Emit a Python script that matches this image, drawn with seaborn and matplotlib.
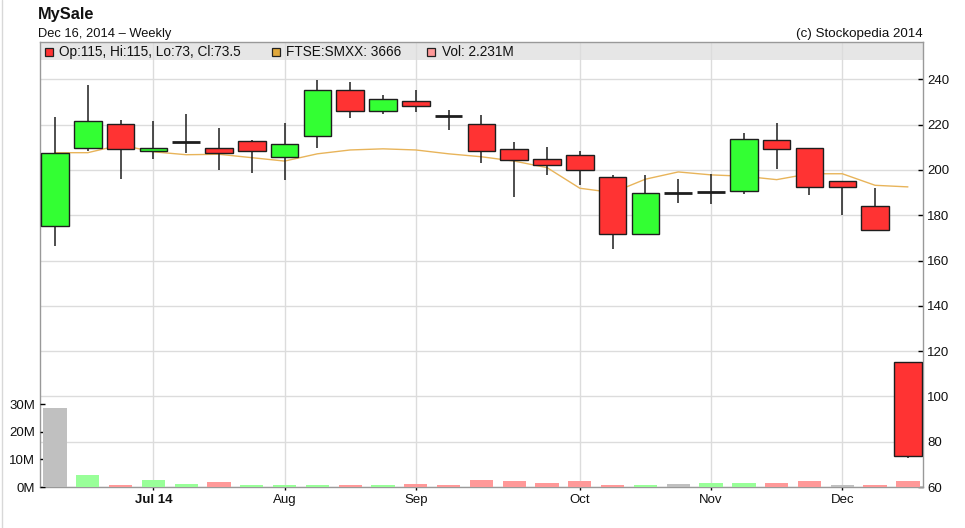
import numpy as np
import pandas as pd
import matplotlib
matplotlib.use("Agg")
import matplotlib.pyplot as plt
from matplotlib.patches import Rectangle
from matplotlib.lines import Line2D
import seaborn as sns

# ---------------- data ----------------
title = "MySale"
subtitle = "Dec 16, 2014 \u2013 Weekly"
credit = "(c) Stockopedia 2014"
first_week = "2014-06-16"
n_weeks = 27

opens = [175.2, 209.8, 220.4, 208.3, 212.3, 209.8, 212.6, 205.8, 214.8, 235.1, 225.8, 230.2, 223.9,
         220.4, 209.3, 205.0, 206.6, 197.0, 171.9, 189.8, 190.4, 190.6, 213.2, 209.8, 195.0, 184.0, 115.0]
highs = [223.3, 237.4, 222.0, 221.5, 224.8, 218.3, 213.2, 220.5, 239.6, 239.0, 233.0, 235.2, 226.4,
         224.3, 212.3, 210.0, 208.3, 197.8, 197.8, 196.1, 198.3, 216.1, 220.5, 209.8, 195.0, 191.9, 115.0]
lows = [166.2, 208.3, 195.9, 204.7, 207.3, 199.8, 198.8, 195.4, 209.8, 223.0, 224.5, 225.5, 217.4,
        203.1, 188.2, 197.6, 193.2, 165.0, 171.9, 185.4, 184.8, 189.3, 200.3, 188.8, 180.0, 173.4, 73.0]
closes = [207.6, 221.8, 209.3, 209.8, 212.3, 207.6, 208.2, 211.5, 235.1, 225.8, 231.2, 228.0, 223.9,
          208.2, 204.4, 202.2, 199.9, 171.9, 190.0, 189.8, 190.4, 213.6, 209.3, 192.3, 192.3, 173.4, 73.5]
ftse_rebased = [207.6, 207.6, 211.0, 208.0, 206.7, 206.9, 205.4, 203.9, 207.1, 208.8, 209.3, 208.8, 207.1,
                205.8, 203.9, 201.0, 191.9, 190.0, 195.9, 199.1, 197.8, 197.2, 195.7, 198.3, 198.3, 193.2, 192.5]
ftse_last = 3666
volumes_m = [28.8, 4.2, 0.7, 2.5, 1.1, 1.7, 0.6, 0.6, 0.6, 0.6, 0.6, 1.2, 0.6,
             2.5, 2.1, 1.6, 2.1, 0.7, 0.6, 1.1, 1.6, 1.6, 1.6, 2.1, 0.6, 0.7, 2.231]
vol_dir = ["flat", "up", "down", "up", "up", "down", "up", "up", "up", "down", "up", "down", "down",
           "down", "down", "down", "down", "down", "up", "flat", "up", "up", "down", "down", "flat", "down", "down"]
month_labels = ["Jul 14", "Aug", "Sep", "Oct", "Nov", "Dec"]
price_ticks = [60, 80, 100, 120, 140, 160, 180, 200, 220, 240]
vol_ticks = [0, 10, 20, 30]
vol_tick_labels = ["0M", "10M", "20M", "30M"]

# ---------------- styling ----------------
sns.set_theme(style="white")
plt.rcParams["font.family"] = ["Liberation Sans", "DejaVu Sans"]
plt.rcParams["font.size"] = 9.5

W, H = 965, 528
fig = plt.figure(figsize=(W / 100, H / 100), dpi=100)
fig.patch.set_facecolor("white")

px_left, px_right, px_top, px_bottom = 39.5, 923, 42, 487
ax = fig.add_axes([px_left / W, 1 - px_bottom / H, (px_right - px_left) / W, (px_bottom - px_top) / H])
axv = ax.twinx()

GREEN, RED = "#33ff33", "#ff3333"
EDGE = "#1e1e1e"
TXT = "#111111"

weeks = pd.date_range(first_week, periods=n_weeks, freq="W-MON")
idx = np.arange(n_weeks)
o = np.array(opens); c = np.array(closes); h = np.array(highs); l = np.array(lows)

# price axis limits
px_per_unit = (486.7 - 79.0) / 180.0
ymax = 60 + (px_bottom - px_top) / px_per_unit
ax.set_ylim(60, ymax)
ax.set_xlim(-0.47, n_weeks - 1 + 0.46)

# grid
ax.set_axisbelow(True)
ax.grid(True, color="#dcdcdc", linewidth=1.0)

# legend band
band_h = 18 / (px_bottom - px_top)
ax.add_patch(Rectangle((0, 1 - band_h), 1, band_h, transform=ax.transAxes,
                       facecolor="#e6e6e6", edgecolor="none", zorder=0.4))

# FTSE line
sns.lineplot(x=idx, y=ftse_rebased, ax=ax, color="#e8b45a", linewidth=1.0, zorder=2, legend=False)

# wicks
ax.vlines(idx, l, h, color=EDGE, linewidth=1.1, zorder=2.5)

# bodies
body_w = 0.84
doji = np.abs(c - o) < 0.3
up = c >= o
colors = np.where(up, GREEN, RED)
nd = ~doji
ax.bar(idx[nd], np.abs(c - o)[nd], bottom=np.minimum(o, c)[nd], width=body_w,
       color=colors[nd], edgecolor=EDGE, linewidth=1.0, zorder=3)
ax.hlines(o[doji], idx[doji] - body_w / 2, idx[doji] + body_w / 2, color=EDGE, linewidth=2.0, zorder=3)

# volume bars
vol_df = pd.DataFrame({"week": idx, "vol": volumes_m, "dir": vol_dir})
sns.barplot(data=vol_df, x="week", y="vol", hue="dir",
            palette={"up": "#99ff99", "down": "#ff9999", "flat": "#c0c0c0"},
            dodge=False, native_scale=True, width=0.71, saturation=1, errorbar=None,
            legend=False, ax=axv, linewidth=0)
axv.set_ylim(0, (px_bottom - px_top) / 2.76)
axv.set_xlim(-0.47, n_weeks - 1 + 0.46)

# axes / ticks
ax.yaxis.tick_right()
ax.set_yticks(price_ticks)
ax.set_yticklabels([str(t) for t in price_ticks])
ax.tick_params(axis="y", which="both", right=True, left=False, direction="in", length=3.6,
               width=1, color="black", pad=3, labelsize=9.5, labelcolor=TXT)

axv.yaxis.tick_left()
axv.set_yticks(vol_ticks)
axv.set_yticklabels(vol_tick_labels)
axv.tick_params(axis="y", left=True, right=False, direction="in", length=3.6, width=1,
                color="black", pad=3, labelsize=9.5, labelcolor=TXT)
axv.set_ylabel(""); axv.set_xlabel("")

month_pos = [i for i in range(1, n_weeks) if weeks[i].month != weeks[i - 1].month]
ax.set_xticks(month_pos)
ax.set_xticklabels(month_labels)
ax.tick_params(axis="x", bottom=True, direction="out", length=2.2, width=1, color="black",
               pad=2.5, labelsize=9.5, labelcolor=TXT)
ax.get_xticklabels()[0].set_fontweight("bold")
ax.set_xlabel(""); ax.set_ylabel("")

for s in ax.spines.values():
    s.set_visible(True); s.set_color("#999999"); s.set_linewidth(1.0)
for s in axv.spines.values():
    s.set_visible(False)

# titles
fig.text(38 / W, 1 - 19 / H, title, fontsize=11.8, fontweight="bold", va="baseline", ha="left", color=TXT)
fig.text(38 / W, 1 - 37 / H, subtitle, fontsize=9.3, va="baseline", ha="left", color=TXT)
fig.text(922.5 / W, 1 - 37 / H, credit, fontsize=9.6, va="baseline", ha="right", color=TXT)

# legend
def fmt(v):
    return f"{v:g}"

leg_items = [
    (44.5, RED, f"Op:{fmt(opens[-1])}, Hi:{fmt(highs[-1])}, Lo:{fmt(lows[-1])}, Cl:{fmt(closes[-1])}"),
    (272.0, "#e0a83c", f"FTSE:SMXX: {ftse_last}"),
    (427.0, "#ff9999", f"Vol: {volumes_m[-1]:.3f}M"),
]
for x0, col, txt in leg_items:
    fig.add_artist(Rectangle((x0 / W, 1 - 55.5 / H), 8 / W, 8 / H, transform=fig.transFigure,
                             facecolor=col, edgecolor="#222222", linewidth=0.9))
    fig.text((x0 + 14.5) / W, 1 - 56 / H, txt, fontsize=9.8, va="baseline", ha="left", color=TXT)

# faint left border of the image
fig.add_artist(Line2D([1.5 / W, 1.5 / W], [0, 1], transform=fig.transFigure, color="#d8d8d8", linewidth=1))

fig.savefig("out.png", dpi=100)
